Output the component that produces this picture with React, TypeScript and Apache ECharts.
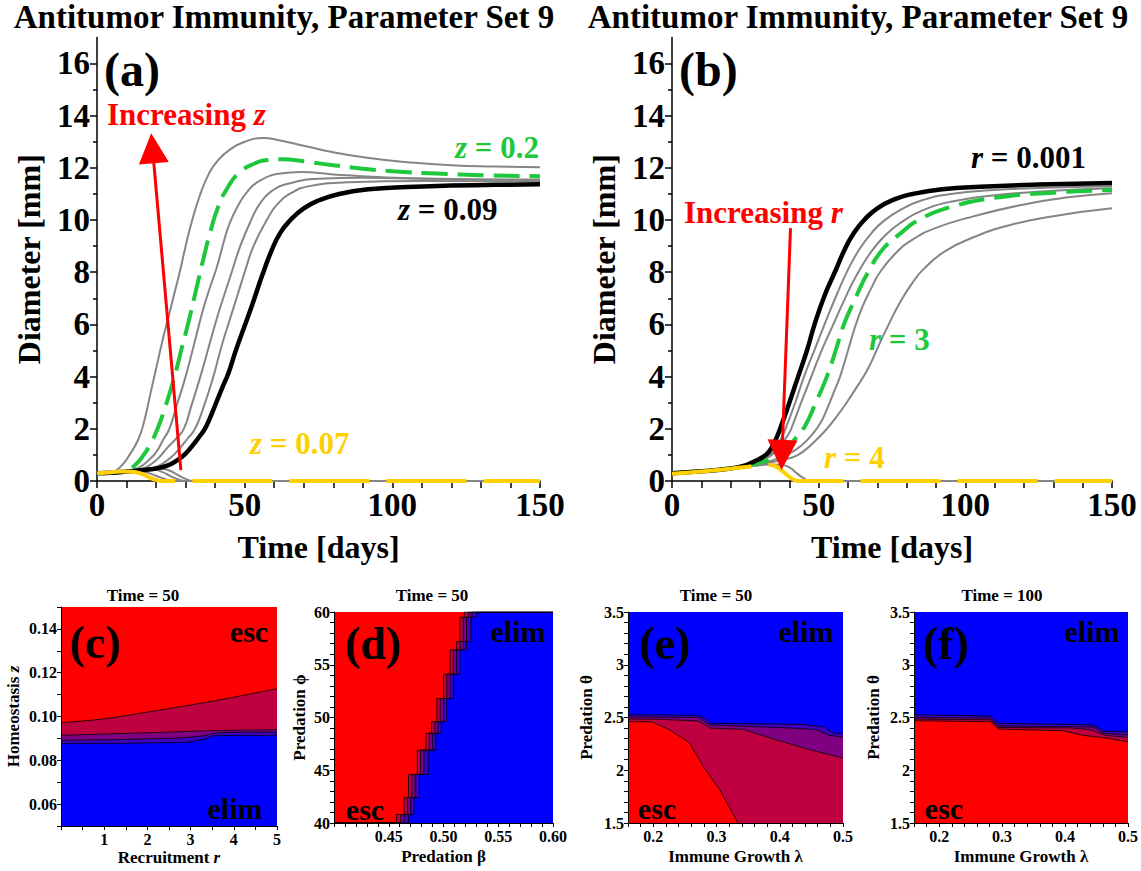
import React, { useEffect, useRef } from "react";
import * as echarts from "echarts";

const SERIF = '"Liberation Serif", "Times New Roman", Times, serif';

// ================= Panel (a): tumour diameter for several homeostasis values z =================
const aGrayHigh = [[0,0.3],[5,0.34],[8,0.55],[11,1.0],[14,1.6],[16,2.3],[18,3.3],[20,4.3],[22,5.3],[24,6.2],[26,7.1],[28,8.0],[30,9.0],[32,9.9],[35,11.0],[38,11.8],[41,12.3],[45,12.7],[50,13.0],[56,13.14],[62,13.05],[70,12.85],[80,12.6],[92,12.38],[105,12.22],[120,12.1],[135,12.05],[150,12.02]];
const aGreenZ02 = [[0,0.3],[5,0.32],[10,0.42],[13,0.62],[15.5,0.95],[18,1.4],[20.5,2.0],[23,2.8],[26,3.9],[28.5,5.0],[31,6.1],[33.5,7.3],[36,8.5],[38.5,9.6],[41,10.5],[44,11.2],[48,11.8],[53,12.15],[58,12.3],[63,12.33],[70,12.25],[80,12.1],[90,11.97],[100,11.87],[115,11.78],[130,11.72],[150,11.68]];
const aGray3 = [[0,0.3],[5,0.31],[10,0.36],[14,0.5],[17,0.75],[20,1.1],[22.5,1.6],[24.5,2.0],[27,2.9],[30,4.0],[33,5.3],[36,6.6],[38.5,7.5],[40.6,8.2],[43,9.2],[45,9.9],[48,10.6],[51,11.1],[55,11.5],[62,11.78],[69,11.84],[80,11.75],[95,11.65],[115,11.58],[150,11.55]];
const aGray4 = [[0,0.3],[5,0.31],[10,0.34],[15,0.45],[18,0.62],[21,0.9],[24,1.3],[27,1.65],[29.4,2.0],[32,2.9],[35,4.0],[38,5.2],[40.5,6.2],[43,7.1],[45.6,8.0],[48.5,9.0],[51.8,9.9],[55,10.6],[59,11.1],[65,11.4],[75,11.58],[90,11.62],[110,11.58],[150,11.5]];
const aGray5 = [[0,0.3],[5,0.31],[10,0.34],[15,0.4],[19,0.5],[22,0.65],[25,0.9],[28,1.25],[30.5,1.6],[33.2,2.0],[36,2.8],[39.4,4.0],[42,5.1],[45,6.2],[47.5,7.1],[50,8.0],[53,9.0],[57.5,10.0],[61,10.6],[66,11.05],[72,11.3],[85,11.45],[110,11.5],[150,11.48]];
const aBlackZ009 = [[0,0.3],[5,0.32],[10,0.36],[15,0.41],[20,0.48],[24,0.6],[27,0.78],[30,1.05],[33,1.45],[35,1.75],[37,2.1],[40,2.9],[42.5,3.6],[44.4,4.1],[47,5.0],[50.5,6.1],[53,6.9],[56,7.9],[59,8.8],[62,9.5],[65.5,10.0],[70,10.45],[75,10.75],[82,11.0],[92,11.18],[105,11.27],[120,11.32],[135,11.35],[150,11.37]];
const aGrayDecay1 = [[0,0.3],[5,0.33],[10,0.38],[15,0.44],[19,0.45],[22,0.35],[25,0.18],[27.5,0.06],[30,0],[150,0]];
const aGrayDecay2 = [[0,0.3],[5,0.33],[10,0.38],[15,0.45],[20,0.5],[24,0.42],[27,0.25],[30,0.08],[32.5,0],[150,0]];
const aGrayDecay3 = [[0,0.3],[5,0.33],[10,0.37],[14,0.38],[17,0.32],[20,0.2],[23,0.08],[26,0],[150,0]];
const aYellowZ007 = [[0,0.3],[4,0.33],[8,0.36],[12,0.35],[15,0.28],[17.5,0.15],[20,0.04],[22,0],[150,0]];
const aArrow = [[28.4, 0.42], [18.8, 12.75]];

// ================= Panel (b): tumour diameter for several recruitment values r =================
const bBlackR0001 = [[0,0.3],[10,0.37],[20,0.48],[25,0.6],[28,0.75],[31,0.92],[33,1.12],[35,1.5],[37,2.05],[40,3.0],[43,4.0],[46,5.0],[48.6,6.0],[52,7.1],[55.5,8.0],[59,8.9],[62,9.5],[65.5,10.0],[70,10.45],[76,10.8],[82,11.0],[92,11.18],[105,11.28],[125,11.36],[150,11.42]];
const bGray1 = [[0,0.3],[10,0.37],[20,0.48],[25,0.58],[28,0.7],[31,0.85],[34,1.08],[36.5,1.48],[38.5,1.95],[42,3.0],[45,4.0],[48.5,5.0],[52,6.0],[56,7.1],[60,8.1],[64,8.9],[68,9.5],[72,9.95],[78,10.4],[85,10.75],[95,11.0],[110,11.15],[130,11.25],[150,11.3]];
const bGray2 = [[0,0.3],[10,0.37],[20,0.48],[25,0.57],[28,0.68],[31,0.82],[34,1.0],[37,1.35],[40,1.85],[41,2.1],[44,3.0],[47.5,4.0],[51,5.0],[55,6.0],[59,7.0],[63,7.9],[68,8.8],[73,9.45],[78,9.9],[85,10.35],[95,10.7],[110,10.95],[130,11.12],[150,11.22]];
const bGreenR3 = [[0,0.3],[10,0.37],[20,0.48],[25,0.56],[30,0.7],[33,0.82],[36,1.0],[39,1.28],[42,1.62],[45.3,2.1],[49,3.0],[52.8,4.0],[55.8,5.0],[58.6,6.0],[62.5,7.0],[66.8,8.0],[72,8.9],[78,9.5],[84,10.0],[95,10.5],[110,10.85],[130,11.05],[150,11.15]];
const bGray3 = [[0,0.3],[10,0.37],[20,0.48],[30,0.66],[35,0.82],[40,1.05],[44,1.35],[47.5,1.75],[50.5,2.2],[53,2.8],[55.5,3.5],[57.3,4.0],[60,5.0],[62.4,5.9],[65,6.7],[68,7.4],[70.6,7.95],[76,8.7],[82,9.25],[90,9.7],[103,10.15],[120,10.6],[135,10.87],[150,11.03]];
const bGray4 = [[0,0.3],[10,0.37],[20,0.48],[30,0.64],[38,0.82],[43,1.0],[48,1.45],[52.8,2.0],[56,2.45],[59.5,3.0],[63,3.6],[66.8,4.3],[70.5,5.2],[74.3,6.1],[78,6.9],[82,7.6],[85.6,8.1],[93,8.8],[103,9.35],[115,9.8],[130,10.15],[150,10.45]];
const bGrayDecay = [[0,0.3],[10,0.37],[20,0.48],[28,0.58],[33,0.63],[37,0.62],[40,0.52],[42.5,0.3],[45,0.1],[47,0],[150,0]];
const bYellowR4 = [[0,0.28],[10,0.36],[20,0.47],[26,0.55],[30,0.6],[33,0.62],[35.5,0.55],[38,0.35],[40.5,0.12],[43,0],[150,0]];
const bArrow = [[40.4, 9.69], [37.5, 1.0]];

const timeTickLabels = [0, 50, 100, 150];
const timeTicks = [0, 10, 20, 30, 40, 50, 60, 70, 80, 90, 100, 110, 120, 130, 140, 150];
const diamLabels = [0, 2, 4, 6, 8, 10, 12, 14, 16];
const diamMinorTicks = [1, 3, 5, 7, 9, 11, 13, 15];

// ================= Panel (c): z vs r, Time = 50 =================
const cRedEdge = [[0,0.0972],[0.9,0.0987],[2.06,0.1022],[3.22,0.106],[4.15,0.1094],[5,0.1127]];
const cCrimsonEdge = [[0,0.0914],[1,0.092],[2.06,0.0926],[3.22,0.0934],[4.15,0.0938],[5,0.094]];
const cPurpleEdge = [[0,0.0891],[1.5,0.0895],[2.8,0.0902],[3.3,0.0912],[3.6,0.0925],[4,0.0928],[5,0.0929]];
const cDarkEdge = [[0,0.0877],[1.5,0.0878],[2.91,0.0882],[3.3,0.0896],[3.53,0.0912],[4,0.0914],[5,0.0914]];
const cXLabels = [1, 2, 3, 4, 5];
const cXTicks = [0, 0.5, 1, 1.5, 2, 2.5, 3, 3.5, 4, 4.5, 5];
const cYLabels = [0.06, 0.08, 0.1, 0.12, 0.14];
const cYTicks = [0.05, 0.06, 0.07, 0.08, 0.09, 0.1, 0.11, 0.12, 0.13, 0.14, 0.15];

// ================= Panel (d): phi vs beta, Time = 50 (staircase boundary) =================
const dStepY = [40, 40.8, 42.4, 44.6, 46.9, 48.5, 49.6, 51.8, 54.1, 56.4, 57.2, 59.5, 60];
const dRedX = [0.457, 0.464, 0.468, 0.476, 0.484, 0.489, 0.494, 0.5, 0.506, 0.512, 0.515, 0.519];
const dCrimsonX = [0.461, 0.467, 0.471, 0.479, 0.487, 0.492, 0.497, 0.503, 0.509, 0.515, 0.518, 0.523];
const dPurpleX = [0.464, 0.47, 0.474, 0.482, 0.49, 0.495, 0.5, 0.506, 0.512, 0.518, 0.521, 0.526];
const dDarkX = [0.468, 0.473, 0.478, 0.486, 0.493, 0.498, 0.503, 0.509, 0.515, 0.521, 0.525, 0.53];
const dXLabels = [0.45, 0.5, 0.55, 0.6];
const dXTicks = [0.4,0.41,0.42,0.43,0.44,0.45,0.46,0.47,0.48,0.49,0.5,0.51,0.52,0.53,0.54,0.55,0.56,0.57,0.58,0.59,0.6];
const dYLabels = [40, 45, 50, 55, 60];
const dYTicks = [40,41,42,43,44,45,46,47,48,49,50,51,52,53,54,55,56,57,58,59,60];

// ================= Panel (e): theta vs lambda, Time = 50 =================
const eRedEdge = [[0.16,2.46],[0.197,2.46],[0.226,2.384],[0.2576,2.258],[0.279,2.036],[0.305,1.816],[0.334,1.5]];
const eCrimsonEdge = [[0.16,2.486],[0.207,2.484],[0.271,2.466],[0.283,2.425],[0.29,2.4],[0.342,2.387],[0.394,2.29],[0.447,2.195],[0.5,2.116]];
const ePurpleEdge = [[0.16,2.506],[0.271,2.5],[0.283,2.455],[0.29,2.43],[0.4186,2.4],[0.458,2.385],[0.479,2.33],[0.5,2.315]];
const eDarkEdge = [[0.16,2.527],[0.27,2.52],[0.283,2.49],[0.29,2.445],[0.438,2.435],[0.47,2.41],[0.485,2.35],[0.5,2.35]];

// ================= Panel (f): theta vs lambda, Time = 100 =================
const fRedEdge = [[0.16,2.47],[0.281,2.46],[0.2946,2.39],[0.3975,2.375],[0.429,2.33],[0.4606,2.31],[0.5,2.27]];
const fCrimsonEdge = [[0.16,2.485],[0.281,2.478],[0.2946,2.405],[0.41,2.4],[0.44,2.385],[0.465,2.33],[0.5,2.31]];
const fPurpleEdge = [[0.16,2.5],[0.281,2.495],[0.2946,2.42],[0.445,2.41],[0.462,2.35],[0.5,2.335]];
const fDarkEdge = [[0.16,2.525],[0.281,2.515],[0.2946,2.445],[0.445,2.43],[0.462,2.37],[0.5,2.365]];

const lamLabels = [0.2, 0.3, 0.4, 0.5];
const lamTicks = [0.16,0.18,0.2,0.22,0.24,0.26,0.28,0.3,0.32,0.34,0.36,0.38,0.4,0.42,0.44,0.46,0.48,0.5];
const thetaLabels = [1.5, 2, 2.5, 3, 3.5];
const thetaTicks = [1.5,1.6,1.7,1.8,1.9,2,2.1,2.2,2.3,2.4,2.5,2.6,2.7,2.8,2.9,3,3.1,3.2,3.3,3.4,3.5];

// ================= colours =================
const GRAY = "#858585";
const GREEN = "#1ec83c";
const YELLOW = "#ffd000";
const ARROW_RED = "#ff0000";
const C_RED = "#ff0000";
const C_CRIMSON = "#bf0040";
const C_PURPLE = "#7f0080";
const C_DARK = "#4000bf";
const C_BLUE = "#0000ff";

function stairs(xs: number[], ys: number[]) {
  const pts: number[][] = [[0.4, ys[0]]];
  for (let i = 0; i < xs.length; i++) {
    pts.push([xs[i], ys[i]], [xs[i], ys[i + 1]]);
  }
  pts.push([0.6, ys[ys.length - 1]]);
  return pts;
}

const curve = (data: number[][], g: number, color: string, width: number, type: any = "solid", z = 2) => ({
  type: "line",
  data,
  xAxisIndex: g,
  yAxisIndex: g,
  symbol: "none",
  showSymbol: false,
  smooth: 0.5,
  silent: true,
  z,
  lineStyle: { color, width, type, cap: "butt", join: "round" },
});

const region = (data: number[][], g: number, fill: string, origin: string, smooth: number = 0) => ({
  type: "line",
  data,
  xAxisIndex: g,
  yAxisIndex: g,
  symbol: "none",
  showSymbol: false,
  smooth,
  silent: true,
  lineStyle: { color: "#000", width: 0.8 },
  areaStyle: { color: fill, opacity: 1, origin },
});

const arrowMark = (pts: number[][]) => ({
  silent: true,
  animation: false,
  symbol: ["none", "triangle"],
  symbolSize: [1, 30],
  label: { show: false },
  emphasis: { disabled: true },
  lineStyle: { color: ARROW_RED, width: 3, type: "solid", opacity: 1 },
  data: [[{ coord: pts[0], symbol: "none" }, { coord: pts[1], symbol: "triangle", symbolSize: 30 }]],
});

const bold = (size: number) => ({ color: "#000", fontFamily: SERIF, fontWeight: "bold", fontSize: size });
const italicRich = (size: number, color = "#000") => ({
  i: { fontStyle: "italic", fontWeight: "bold", fontFamily: SERIF, fontSize: size, color, fill: color },
  n: { fontWeight: "bold", fontFamily: SERIF, fontSize: size, color, fill: color },
});

function topX(gi: number) {
  return {
    type: "value", gridIndex: gi, min: 0, max: 150,
    axisLine: { show: true, onZero: false, lineStyle: { color: "#000", width: 1.5 } },
    axisTick: { show: true, customValues: timeTicks, length: 7, lineStyle: { color: "#000", width: 1.5 } },
    axisLabel: { show: true, customValues: timeTickLabels, margin: 7, ...bold(33) },
    splitLine: { show: false },
    name: "Time [days]", nameLocation: "middle", nameGap: 50, nameTextStyle: bold(32),
  };
}
function topY(gi: number) {
  return {
    type: "value", gridIndex: gi, min: 0, max: 17, position: "left",
    axisLine: { show: true, onZero: false, lineStyle: { color: "#000", width: 1.5 } },
    axisTick: { show: true, customValues: diamLabels, length: 7, lineStyle: { color: "#000", width: 1.5 } },
    axisLabel: { show: true, customValues: diamLabels, margin: 7, ...bold(33) },
    splitLine: { show: false },
    name: "Diameter [mm]", nameLocation: "middle", nameGap: 52, nameTextStyle: bold(32),
  };
}
function topYMinor(gi: number) {
  return {
    type: "value", gridIndex: gi, min: 0, max: 17, position: "left",
    axisLine: { show: false },
    axisTick: { show: true, customValues: diamMinorTicks, length: 4, lineStyle: { color: "#000", width: 1.5 } },
    axisLabel: { show: false },
    splitLine: { show: false },
  };
}
function botX(gi: number, min: number, max: number, labels: number[], ticks: number[], name: string, nameGap: number, fmt?: (v: number) => string) {
  return {
    type: "value", gridIndex: gi, min, max, z: 10,
    axisLine: { show: true, onZero: false, lineStyle: { color: "#000", width: 1 } },
    axisTick: { show: true, customValues: ticks, length: 4, lineStyle: { color: "#000", width: 1 } },
    axisLabel: { show: true, customValues: labels, margin: 5, ...bold(16), formatter: fmt },
    splitLine: { show: false },
    name, nameLocation: "middle", nameGap, nameTextStyle: { ...bold(17), rich: italicRich(17) },
  };
}
function botY(gi: number, min: number, max: number, labels: number[], ticks: number[], name: string, nameGap: number, fmt?: (v: number) => string) {
  return {
    type: "value", gridIndex: gi, min, max, z: 10, position: "left",
    axisLine: { show: true, onZero: false, lineStyle: { color: "#000", width: 1 } },
    axisTick: { show: true, customValues: ticks, length: 4, lineStyle: { color: "#000", width: 1 } },
    axisLabel: { show: true, customValues: labels, margin: 4, ...bold(16), formatter: fmt },
    splitLine: { show: false },
    name, nameLocation: "middle", nameGap, nameTextStyle: { ...bold(17), rich: italicRich(17) },
  };
}

function txt(x: number, y: number, text: string, size: number, fill = "#000", align = "left", rich?: any) {
  return {
    type: "text", x, y, z: 100, silent: true,
    style: {
      text, fill, font: `bold ${size}px ${SERIF}`,
      textAlign: align, textVerticalAlign: "middle", rich,
    },
  };
}

function buildOption() {
  const fix2 = (v: number) => v.toFixed(2);
  const bgGrid = { show: true, backgroundColor: C_BLUE, borderWidth: 0 };
  return {
    animation: false,
    backgroundColor: "#ffffff",
    grid: [
      { left: 97, top: 37.4, width: 443, height: 443.6 },
      { left: 672, top: 37.4, width: 440, height: 443.6 },
      { left: 61, top: 607, width: 216, height: 219, ...bgGrid },
      { left: 334, top: 612, width: 219, height: 211, ...bgGrid },
      { left: 628, top: 612, width: 215, height: 211, ...bgGrid },
      { left: 914, top: 612, width: 215, height: 211, ...bgGrid },
    ],
    xAxis: [
      topX(0),
      topX(1),
      botX(2, 0, 5, cXLabels, cXTicks, "Recruitment {i|r}", 23),
      botX(3, 0.4, 0.6, dXLabels, dXTicks, "Predation \u03b2", 25, fix2),
      botX(4, 0.16, 0.5, lamLabels, lamTicks, "Immune Growth \u03bb", 25),
      botX(5, 0.16, 0.5, lamLabels, lamTicks, "Immune Growth \u03bb", 25),
    ],
    yAxis: [
      topY(0),
      topY(1),
      botY(2, 0.05, 0.15, cYLabels, cYTicks, "Homeostasis {i|z}", 39, fix2),
      botY(3, 40, 60, dYLabels, dYTicks, "Predation \u03d5", 26),
      botY(4, 1.5, 3.5, thetaLabels, thetaTicks, "Predation \u03b8", 33),
      botY(5, 1.5, 3.5, thetaLabels, thetaTicks, "Predation \u03b8", 32),
      topYMinor(0),
      topYMinor(1),
    ],
    series: [
      // ---- (a)
      curve(aGrayDecay1, 0, GRAY, 2),
      curve(aGrayDecay2, 0, GRAY, 2),
      curve(aGrayDecay3, 0, GRAY, 2),
      curve(aGrayHigh, 0, GRAY, 2),
      curve(aGray3, 0, GRAY, 2),
      curve(aGray4, 0, GRAY, 2),
      curve(aGray5, 0, GRAY, 2),
      curve(aGreenZ02, 0, GREEN, 4, [26, 10], 3),
      { ...curve(aBlackZ009, 0, "#000", 4.5, "solid", 3), markLine: arrowMark(aArrow) },
      curve(aYellowZ007, 0, YELLOW, 4, [80, 17], 4),
      // ---- (b)
      curve(bGrayDecay, 1, GRAY, 2),
      curve(bGray1, 1, GRAY, 2),
      curve(bGray2, 1, GRAY, 2),
      curve(bGray3, 1, GRAY, 2),
      curve(bGray4, 1, GRAY, 2),
      curve(bGreenR3, 1, GREEN, 4, [26, 10], 3),
      { ...curve(bBlackR0001, 1, "#000", 4.5, "solid", 3), markLine: arrowMark(bArrow) },
      curve(bYellowR4, 1, YELLOW, 4, [80, 17], 4),
      // ---- (c)
      region(cDarkEdge, 2, C_DARK, "end"),
      region(cPurpleEdge, 2, C_PURPLE, "end"),
      region(cCrimsonEdge, 2, C_CRIMSON, "end"),
      region(cRedEdge, 2, C_RED, "end", 0.3),
      // ---- (d)
      region(stairs(dDarkX, dStepY), 3, C_DARK, "end"),
      region(stairs(dPurpleX, dStepY), 3, C_PURPLE, "end"),
      region(stairs(dCrimsonX, dStepY), 3, C_CRIMSON, "end"),
      region(stairs(dRedX, dStepY), 3, C_RED, "end"),
      // ---- (e)
      region(eDarkEdge, 4, C_DARK, "start"),
      region(ePurpleEdge, 4, C_PURPLE, "start"),
      region(eCrimsonEdge, 4, C_CRIMSON, "start"),
      region(eRedEdge, 4, C_RED, "start"),
      // ---- (f)
      region(fDarkEdge, 5, C_DARK, "start"),
      region(fPurpleEdge, 5, C_PURPLE, "start"),
      region(fCrimsonEdge, 5, C_CRIMSON, "start"),
      region(fRedEdge, 5, C_RED, "start"),
    ],
    graphic: [
      txt(284, 17, "Antitumor Immunity, Parameter Set 9", 33, "#000", "center"),
      txt(858, 17, "Antitumor Immunity, Parameter Set 9", 33, "#000", "center"),
      txt(104, 69, "(a)", 48),
      txt(679, 69, "(b)", 48),
      txt(107, 114, "{n|Increasing }{i|z}", 31, ARROW_RED, "left", italicRich(31, ARROW_RED)),
      txt(684, 212, "{n|Increasing }{i|r}", 31, ARROW_RED, "left", italicRich(31, ARROW_RED)),
      txt(455, 147, "{i|z}{n| = 0.2}", 31, GREEN, "left", italicRich(31, GREEN)),
      txt(398, 209, "{i|z}{n| = 0.09}", 31, "#000", "left", italicRich(31, "#000")),
      txt(250, 443, "{i|z}{n| = 0.07}", 31, YELLOW, "left", italicRich(31, YELLOW)),
      txt(971, 157, "{i|r}{n| = 0.001}", 31, "#000", "left", italicRich(31, "#000")),
      txt(869, 339, "{i|r}{n| = 3}", 31, GREEN, "left", italicRich(31, GREEN)),
      txt(824, 457, "{i|r}{n| = 4}", 31, YELLOW, "left", italicRich(31, YELLOW)),
      // bottom titles
      txt(143, 595, "Time = 50", 17, "#000", "center"),
      txt(432, 595, "Time = 50", 17, "#000", "center"),
      txt(716, 595, "Time = 50", 17, "#000", "center"),
      txt(1002, 595, "Time = 100", 17, "#000", "center"),
      // bottom panel letters and region labels
      txt(95, 642, "(c)", 46, "#000", "center"),
      txt(249, 631, "esc", 30, "#000", "center"),
      txt(235, 808, "elim", 30, "#000", "center"),
      txt(373, 643, "(d)", 46, "#000", "center"),
      txt(518, 631, "elim", 30, "#000", "center"),
      txt(365, 809, "esc", 30, "#000", "center"),
      txt(665, 643, "(e)", 46, "#000", "center"),
      txt(806, 631, "elim", 30, "#000", "center"),
      txt(657, 808, "esc", 30, "#000", "center"),
      txt(946, 643, "(f)", 46, "#000", "center"),
      txt(1092, 631, "elim", 30, "#000", "center"),
      txt(944, 808, "esc", 30, "#000", "center"),
    ],
  };
}

export default function App() {
  const ref = useRef<HTMLDivElement>(null);
  useEffect(() => {
    document.body.style.margin = "0";
    const chart = echarts.init(ref.current as HTMLDivElement, null, { renderer: "svg" });
    chart.setOption(buildOption() as any);
    return () => {
      chart.dispose();
    };
  }, []);
  return <div ref={ref} style={{ width: 1141, height: 871, background: "#ffffff" }} />;
}
